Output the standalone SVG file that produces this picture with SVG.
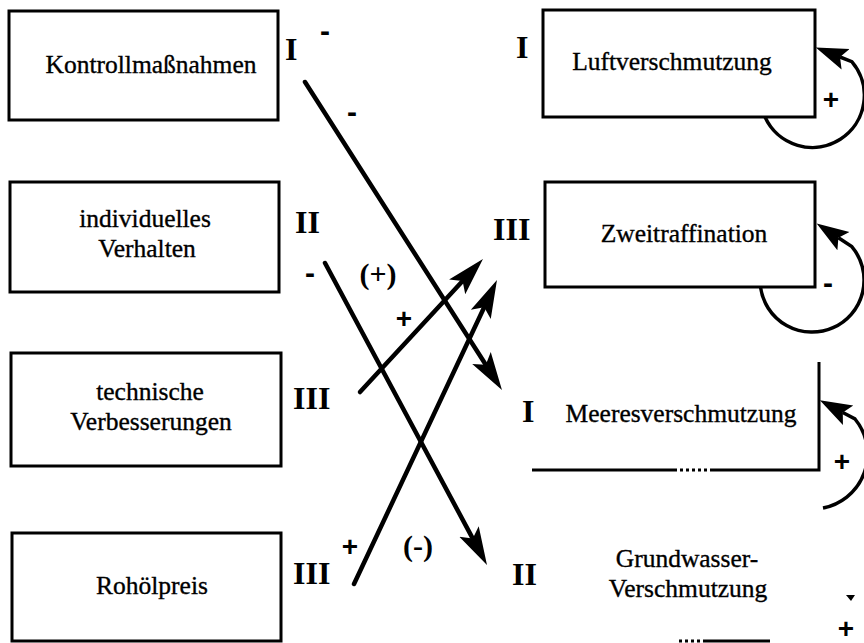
<svg xmlns="http://www.w3.org/2000/svg" width="864" height="643" viewBox="0 0 864 643">
  <style>
    .box { fill: none; stroke: #000; stroke-width: 3; }
    .label { font-family: "Liberation Serif", "Times New Roman", serif; font-size: 25.5px; fill: #000; stroke: #000; stroke-width: 0.35; text-anchor: middle; }
    .num { font-family: "Liberation Serif", "Times New Roman", serif; font-size: 32px; font-weight: bold; fill: #000; }
    .sign { font-family: "Liberation Sans", Arial, sans-serif; font-size: 28px; font-weight: bold; fill: #000; text-anchor: middle; }
    .minus { font-family: "Liberation Sans", Arial, sans-serif; font-size: 30px; font-weight: bold; fill: #000; text-anchor: middle; }
    .paren { font-family: "Liberation Serif", "Times New Roman", serif; font-size: 30px; font-weight: bold; fill: #000; text-anchor: middle; }
    .link { fill: none; stroke: #000; stroke-width: 4.5; stroke-linecap: round; marker-end: url(#head); }
    .loop { fill: none; stroke: #000; stroke-width: 3.5; marker-end: url(#loophead); }
  </style>
  <defs>
    <marker id="head" markerUnits="userSpaceOnUse" markerWidth="40" markerHeight="26" viewBox="0 -13 40 26" refX="8" refY="0" orient="auto">
      <path d="M0,-11 L38,0 L0,11 L8,0 Z" fill="#000"/>
    </marker>
    <marker id="loophead" markerUnits="userSpaceOnUse" markerWidth="34" markerHeight="26" viewBox="0 -13 34 26" refX="6" refY="0" orient="auto">
      <path d="M0,-11 L32,0 L0,11 L6,0 Z" fill="#000"/>
    </marker>
  </defs>

  <rect width="864" height="643" fill="#fff"/>

  <!-- causes (left column) -->
  <g id="kontrollmassnahmen">
    <rect class="box" x="9" y="11" width="269" height="109"/>
    <text class="label" x="151" y="73">Kontrollmaßnahmen</text>
    <text class="num" x="285" y="60">I</text>
  </g>
  <g id="individuelles-verhalten">
    <rect class="box" x="10" y="182" width="269" height="110"/>
    <text class="label" x="145" y="227">individuelles</text>
    <text class="label" x="147" y="257">Verhalten</text>
    <text class="num" x="295" y="233">II</text>
  </g>
  <g id="technische-verbesserungen">
    <rect class="box" x="11" y="353" width="270" height="113"/>
    <text class="label" x="150" y="400">technische</text>
    <text class="label" x="151" y="430">Verbesserungen</text>
    <text class="num" x="293" y="409">III</text>
  </g>
  <g id="rohoelpreis">
    <rect class="box" x="12" y="533" width="269" height="108"/>
    <text class="label" x="152" y="594">Rohölpreis</text>
    <text class="num" x="293" y="584">III</text>
  </g>

  <!-- effects (right column) -->
  <g id="luftverschmutzung">
    <rect class="box" x="543" y="10" width="272" height="107"/>
    <text class="label" x="672" y="70">Luftverschmutzung</text>
    <text class="num" x="516" y="58">I</text>
  </g>
  <g id="zweitraffination">
    <rect class="box" x="545" y="182" width="270" height="105"/>
    <text class="label" x="684" y="242">Zweitraffination</text>
    <text class="num" x="493" y="240">III</text>
  </g>
  <g id="meeresverschmutzung">
    <path class="box" d="M819,362 V470 H713"/>
    <path class="box" d="M713,470 H677" stroke-dasharray="3 3" stroke-width="2"/>
    <path class="box" d="M677,470 H532" stroke-width="2.5"/>
    <text class="label" x="681" y="422">Meeresverschmutzung</text>
    <text class="num" x="522" y="422">I</text>
  </g>
  <g id="grundwasserverschmutzung">
    <path class="box" d="M770,641 H706"/>
    <path class="box" d="M706,641 H677" stroke-dasharray="3 3" stroke-width="2"/>
    <text class="label" x="687" y="567">Grundwasser-</text>
    <text class="label" x="688" y="597">Verschmutzung</text>
    <text class="num" x="512" y="585">II</text>
    <path d="M846,595 L855,595 L851,601 Z" fill="#000"/>
    <text class="sign" x="846" y="638" font-size="24">+</text>
  </g>

  <!-- connectors -->
  <g id="connectors">
    <path class="link" d="M305,82 L485.8,364.7"/>
    <path class="link" d="M325,263 L472.8,538.6"/>
    <path class="link" d="M360,392 L462.6,281"/>
    <path class="link" d="M354,584 L484.2,307.2"/>

    <!-- self-reinforcing / damping loops -->
    <path class="loop" d="M765,117 A52,52 0 1,0 851.8,61.6 L840,57"/>
    <path class="loop" d="M760.5,287 A52,52 0 1,0 851.8,246.6 L838.4,237.8"/>
    <path class="loop" d="M823,508 A55,55 0 0,0 855,419 L842.8,412.5"/>

    <!-- signs -->
    <text class="minus" x="325" y="41">-</text>
    <text class="minus" x="352" y="122">-</text>
    <text class="minus" x="310" y="283">-</text>
    <text class="paren" x="378" y="284">(+)</text>
    <text class="sign" x="404" y="328">+</text>
    <text class="paren" x="418" y="556">(-)</text>
    <text class="sign" x="350" y="556">+</text>
    <text class="sign" x="831" y="109">+</text>
    <text class="minus" x="828" y="293">-</text>
    <text class="sign" x="842" y="471">+</text>
  </g>
</svg>
